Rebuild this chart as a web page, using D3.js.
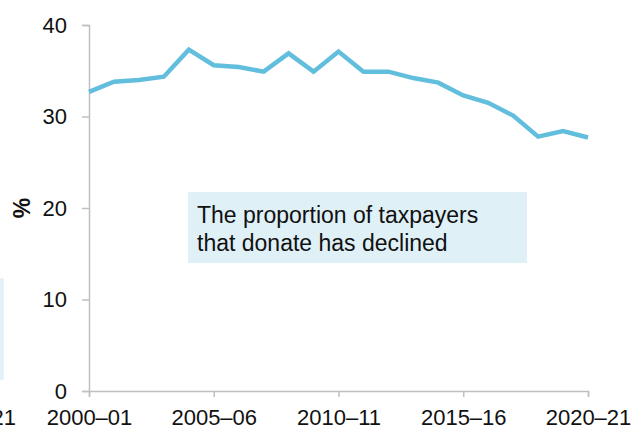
<!DOCTYPE html>
<html>
<head>
<meta charset="utf-8">
<script src="https://cdn.jsdelivr.net/npm/d3@7"></script>
<style>
  html, body { margin: 0; padding: 0; background: #fff; }
  svg { display: block; font-family: "Liberation Sans", Arial, sans-serif; }
</style>
</head>
<body>
<svg id="chart" width="642" height="430"></svg>
<script>
// Share of taxpayers who donate, by tax year (%)
const years = ["2000–01","2001–02","2002–03","2003–04","2004–05","2005–06","2006–07",
  "2007–08","2008–09","2009–10","2010–11","2011–12","2012–13","2013–14","2014–15",
  "2015–16","2016–17","2017–18","2018–19","2019–20","2020–21"];
const donorShare = [32.7, 33.8, 34.0, 34.35, 37.3, 35.6, 35.4, 34.9, 36.9, 34.9, 37.1,
  34.9, 34.9, 34.2, 33.7, 32.3, 31.5, 30.1, 27.8, 28.4, 27.7];
const xTickLabels = ["2000–01","2005–06","2010–11","2015–16","2020–21"];
const yTicks = [0, 10, 20, 30, 40];
const noteLines = ["The proportion of taxpayers", "that donate has declined"];

const svg = d3.select("#chart");
const axisColor = "#c0c0c0";
const lineColor = "#62bedd";
const textColor = "#111";
const labelFont = "Liberation Sans, Arial, sans-serif";

const x = d3.scalePoint().domain(years).range([89, 588]);
const y = d3.scaleLinear().domain([0, 40]).range([391, 25]);

// Edge of the neighbouring panel (box and last axis label)
svg.append("rect").attr("x", -300).attr("y", 279).attr("width", 303).attr("height", 100)
  .attr("fill", "#e3f1f8").attr("stroke", "#d6eaf3").attr("stroke-width", 1);
svg.append("text").attr("x", 16).attr("y", 425).attr("text-anchor", "end")
  .attr("font-size", 22).attr("fill", textColor).text("2020–21");

// Y axis
const yAxis = d3.axisLeft(y).tickValues(yTicks).tickSize(7).tickPadding(15);
const gy = svg.append("g").attr("transform", "translate(89,0)").call(yAxis);
gy.select(".domain").attr("stroke", axisColor).attr("stroke-width", 1.5);
gy.selectAll(".tick line").attr("stroke", axisColor).attr("stroke-width", 1.5);
gy.selectAll(".tick text").attr("font-size", 22).attr("fill", textColor)
  .attr("font-family", labelFont);

// X axis
const xAxis = d3.axisBottom(x).tickValues(xTickLabels).tickSize(6).tickPadding(12);
const gx = svg.append("g").attr("transform", "translate(0,391)").call(xAxis);
gx.select(".domain").attr("stroke", axisColor).attr("stroke-width", 1.5);
gx.selectAll(".tick line").attr("stroke", axisColor).attr("stroke-width", 1.5);
gx.selectAll(".tick text").attr("font-size", 22).attr("fill", textColor)
  .attr("font-family", labelFont);

// Y axis title
svg.append("text").attr("transform", "translate(30,208) rotate(-90)")
  .attr("text-anchor", "middle").attr("font-size", 23).attr("font-weight", "bold")
  .attr("fill", textColor).text("%");

// Data line
const line = d3.line().x((d, i) => x(years[i])).y(d => y(d));
svg.append("path").datum(donorShare).attr("d", line)
  .attr("fill", "none").attr("stroke", lineColor).attr("stroke-width", 4.5)
  .attr("stroke-linejoin", "miter");

// Annotation
svg.append("rect").attr("x", 188).attr("y", 192).attr("width", 339).attr("height", 71)
  .attr("fill", "#dff0f7");
svg.append("g").selectAll("text").data(noteLines).join("text")
  .attr("x", 197).attr("y", (d, i) => 223 + i * 28)
  .attr("font-size", 23).attr("fill", textColor).text(d => d);
</script>
</body>
</html>
